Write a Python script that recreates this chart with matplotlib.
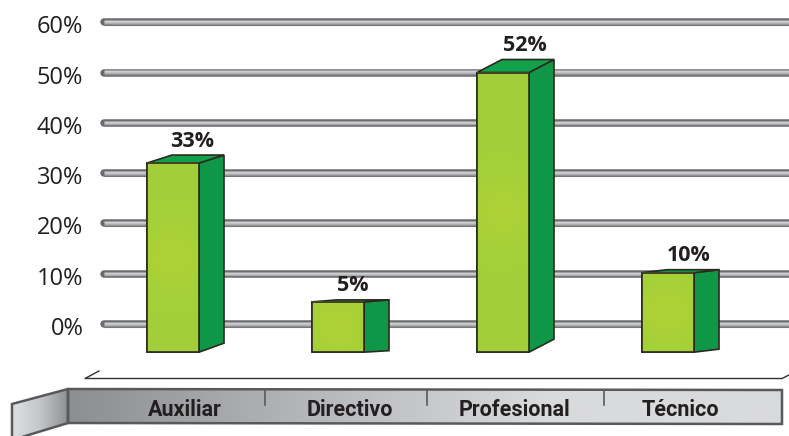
import numpy as np
import matplotlib
matplotlib.use("Agg")
import matplotlib.pyplot as plt
from matplotlib.colors import LinearSegmentedColormap
from matplotlib.patches import Polygon
from matplotlib.transforms import ScaledTranslation

categories = ["Auxiliar", "Directivo", "Profesional", "Técnico"]
drawn_heights = [32, 4.4, 50, 10.2]
value_labels = ["33%", "5%", "52%", "10%"]
tick_values = [0, 10, 20, 30, 40, 50, 60]
tick_labels = ["0%", "10%", "20%", "30%", "40%", "50%", "60%"]

W, H = 789, 436
FLOOR_PX = 378.5
LEFT_PX = 100
PX_PER_UNIT = 5.03
ZERO_PX = 324
BAR_LEFT = 147
BAR_STEP = 165
BAR_W = 52
BAR_BOTTOM = -5.6
depth_dy_top = [8, 2, 13, 3]
depth_dy_bot = [9, 1.5, 13, 3]
label_dx = [45, 41, 48, 47]
label_dy = [3.5, 4, 3.5, 3.5]
DEPTH_DX = 25
PT = 0.72

plt.rcParams['font.family'] = ['Open Sans', 'DejaVu Sans']
fig = plt.figure(figsize=(W / 100, H / 100), dpi=100)
ax = fig.add_axes([LEFT_PX / W, 1 - FLOOR_PX / H, 1 - LEFT_PX / W, FLOOR_PX / H])

def X(px):
    return (px - (BAR_LEFT + BAR_W / 2)) / BAR_STEP
def Y(py):
    return (ZERO_PX - py) / PX_PER_UNIT
def DX(px):
    return px / BAR_STEP
def DY(px):
    return px / PX_PER_UNIT

xlim = (X(LEFT_PX), X(W))
ylim = (Y(FLOOR_PX), Y(0))

# rods
for t in tick_values:
    kw = dict(clip_on=False, zorder=1)
    ax.plot([X(104), X(W + 5)], [t, t], color="#6a6b6e", lw=7.5 * PT, solid_capstyle="round", **kw)
    for off, col in [(2.2, "#9a9b9e"), (1.2, "#cfd0d2"), (0.2, "#c3c4c6"),
                     (-0.8, "#aeafb1"), (-1.8, "#929396"), (-2.7, "#757679")]:
        ax.plot([X(104), X(W + 5)], [t + DY(off), t + DY(off)], color=col, lw=1.1 * PT,
                solid_capstyle="butt", **kw)

edge = "#2b2a20"
cmap_face = LinearSegmentedColormap.from_list("f", ["#aed235", "#a6d039", "#a3ce3a"])
xs = np.arange(len(categories))
bars = ax.bar(xs, np.array(drawn_heights) - BAR_BOTTOM, bottom=BAR_BOTTOM, width=BAR_W / BAR_STEP,
              color="#a6d039", edgecolor=edge, linewidth=1.2, zorder=4)
for i, (b, h) in enumerate(zip(bars, drawn_heights)):
    x0, x1 = b.get_x(), b.get_x() + b.get_width()
    dx = DX(DEPTH_DX)
    side = Polygon([(x1, BAR_BOTTOM), (x1 + dx, BAR_BOTTOM + DY(depth_dy_bot[i])),
                    (x1 + dx, h + DY(depth_dy_top[i])), (x1, h)],
                   fc="#0f9747", ec=edge, lw=1.2, zorder=3)
    top = Polygon([(x0, h), (x1, h), (x1 + dx, h + DY(depth_dy_top[i])), (x0 + dx, h + DY(depth_dy_top[i]))],
                  fc="#13a04a", ec=edge, lw=1.2, zorder=3)
    ax.add_patch(side)
    ax.add_patch(top)
    # soft round glow: distances measured in pixels
    hpx = (h - BAR_BOTTOM) * PX_PER_UNIT
    gx, gy = np.meshgrid(np.linspace(-BAR_W / 2, BAR_W / 2, 60), np.linspace(-hpx / 2, hpx / 2, 120))
    ax.imshow(np.clip(np.hypot(gx, gy) / 80, 0, 1), cmap=cmap_face, vmin=0, vmax=1,
              extent=(x0, x1, BAR_BOTTOM, h), aspect="auto", zorder=5, origin="lower",
              interpolation="bilinear")
    ax.add_patch(Polygon([(x0, BAR_BOTTOM), (x1, BAR_BOTTOM), (x1, h), (x0, h)], fill=False, ec=edge,
                         lw=1.2, zorder=6))
    ax.text(x0 + DX(label_dx[i]), h + DY(depth_dy_top[i]) + DY(label_dy[i]), value_labels[i],
            ha="center", va="bottom", fontsize=15.5, fontweight="bold", color="#231f20", zorder=7,
            clip_on=False)

# floor line
ax.plot([X(99), X(85), X(782), X(789)], [Y(371), Y(378.5), Y(378.5), Y(375)], color="#333333", lw=1,
        clip_on=False, zorder=2)

# band and flap
band = [(68, 389), (782, 390), (782, 424), (68, 423)]
flap = [(68, 389), (12, 404), (12, 440), (68, 423)]
cm_band = LinearSegmentedColormap.from_list("b", ["#8d8e92", "#b5b6b9", "#d9dadc", "#d9dadc"])
cm_flap = LinearSegmentedColormap.from_list("fl", ["#dfe0e2", "#c5c6c9", "#8f9094"])
for pts, cm in [(band, cm_band), (flap, cm_flap)]:
    px = np.array(pts, float)
    poly = Polygon(np.c_[X(px[:, 0]), Y(px[:, 1])], fc="none", ec="#58595b", lw=1.8, clip_on=False, zorder=3)
    ax.add_patch(poly)
    ext = (X(px[:, 0].min()), X(px[:, 0].max()), Y(px[:, 1].max()), Y(px[:, 1].min()))
    im = ax.imshow(np.linspace(0, 1, 256)[None, :], cmap=cm, extent=ext, aspect="auto", zorder=2,
                   interpolation="bilinear")
    im.set_clip_box(fig.bbox)
    im.set_clip_path(poly)

for sep in [265, 427, 604]:
    ax.plot([X(sep), X(sep)], [Y(390), Y(405)], color="#58595b", lw=1.2, clip_on=False, zorder=4)

ax.set_xlim(*xlim)
ax.set_ylim(*ylim)
ax.set_axisbelow(False)
ax.set_xticks(xs + 12 / BAR_STEP)
ax.set_xticklabels(categories, family=["Roboto", "DejaVu Sans"], fontweight="bold",
                   fontsize=15.5, color="#231f20")
ax.tick_params(axis="x", length=0, pad=15)
ax.set_yticks(tick_values)
ax.set_yticklabels(tick_labels, fontsize=17, color="#231f20")
ax.tick_params(axis="y", length=0, pad=12)
shift = ScaledTranslation(0, -2 / 100, fig.dpi_scale_trans)
for lab in ax.get_yticklabels():
    lab.set_transform(lab.get_transform() + shift)
for s in ax.spines.values():
    s.set_visible(False)
ax.patch.set_visible(False)

fig.savefig("out.png", dpi=100)
